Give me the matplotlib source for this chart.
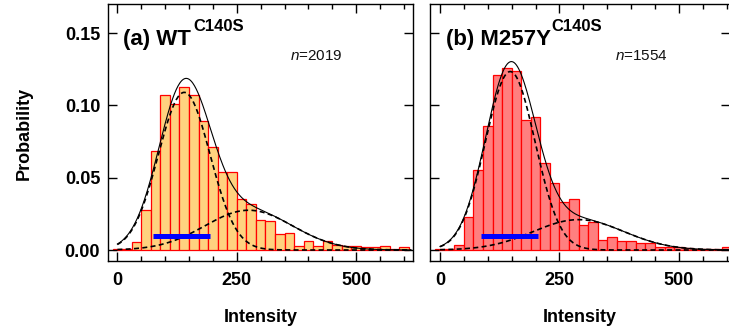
import numpy as np
import matplotlib.pyplot as plt
from matplotlib.ticker import MultipleLocator

plt.rcParams['font.family'] = ['Liberation Sans', 'DejaVu Sans']
plt.rcParams['mathtext.fontset'] = 'custom'
plt.rcParams['mathtext.rm'] = 'Liberation Sans'
plt.rcParams['mathtext.it'] = 'Liberation Sans:italic'
plt.rcParams['mathtext.bf'] = 'Liberation Sans:bold'

# histogram bins (bin width 20, centres)
bins = [0, 20, 40, 60, 80, 100, 120, 140, 160, 180, 200, 220, 240, 260, 280, 300,
        320, 340, 360, 380, 400, 420, 440, 460, 480, 500, 520, 540, 560, 580, 600]

prob_wt = [0.001, 0.001, 0.0058, 0.028, 0.0687, 0.107, 0.101, 0.113, 0.107, 0.089,
           0.071, 0.054, 0.054, 0.035, 0.032, 0.021, 0.020, 0.011, 0.012, 0.0025,
           0.0064, 0.0025, 0.006, 0.0035, 0.0025, 0.0025, 0.002, 0.002, 0.003, 0.001, 0.002]

prob_m257y = [0.0005, 0.001, 0.0035, 0.0226, 0.0552, 0.0854, 0.1211, 0.1257, 0.124, 0.090,
              0.0918, 0.0599, 0.0465, 0.033, 0.035, 0.017, 0.0194, 0.0072, 0.0088, 0.006,
              0.006, 0.0046, 0.0046, 0.0018, 0.0018, 0.0018, 0.0012, 0.0005, 0.0005, 0.001, 0.0018]

# two-gaussian fits: amplitude, centre, sigma
fit_wt_amp = [0.109, 0.0275]
fit_wt_mu = [140, 275]
fit_wt_sig = [54, 92]
fit_m_amp = [0.1234, 0.021]
fit_m_mu = [147, 290]
fit_m_sig = [52, 95]

# blue horizontal bar (start, end, level)
blue_wt = [75, 194, 0.0097]
blue_m = [85, 206, 0.0097]

panels = [
    dict(prob=prob_wt, amp=fit_wt_amp, mu=fit_wt_mu, sig=fit_wt_sig, blue=blue_wt,
         fc='#FFD27F', title='(a) WT', n='$n$=2019', xlim=(-19, 618)),
    dict(prob=prob_m257y, amp=fit_m_amp, mu=fit_m_mu, sig=fit_m_sig, blue=blue_m,
         fc='#FF7F7F', title='(b) M257Y', n='$n$=1554', xlim=(-21, 607)),
]

W, H = 729, 335
fig = plt.figure(figsize=(W / 100, H / 100), dpi=100)

def fx(x):
    return x / W

def fy(y):
    return 1 - y / H

# axes boxes in pixels: left, right, top, bottom
boxes = [(108.3, 412.5, 4, 260.5), (430, 730, 4, 260.5)]

xs = np.linspace(0, 615, 500)
for i, (p, b) in enumerate(zip(panels, boxes)):
    ax = fig.add_axes([fx(b[0]), fy(b[3]), (b[1] - b[0]) / W, (b[3] - b[2]) / H])
    ax.bar(bins, p['prob'], width=20, color=p['fc'], edgecolor='#FF0000',
           linewidth=0.9, zorder=1)
    comps = []
    for a, m, s in zip(p['amp'], p['mu'], p['sig']):
        c = a * np.exp(-(xs - m) ** 2 / (2 * s ** 2))
        comps.append(c)
        ax.plot(xs, c, color='black', lw=1.2, ls=(0, (3, 2)), zorder=3)
    ax.plot(xs, comps[0] + comps[1], color='black', lw=0.8, zorder=3)
    ax.plot(p['blue'][:2], [p['blue'][2]] * 2, color='#0000FF', lw=3.6,
            solid_capstyle='butt', zorder=4)

    ax.set_xlim(*p['xlim'])
    ax.set_ylim(-0.00726, 0.1701)
    ax.set_xticks([0, 250, 500])
    ax.xaxis.set_minor_locator(MultipleLocator(50))
    ax.set_yticks([0, 0.05, 0.10, 0.15])
    ax.tick_params(which='both', direction='in', top=True, right=True, width=1)
    ax.tick_params(which='major', length=6.5)
    ax.tick_params(which='minor', length=3.6)
    ax.tick_params(axis='x', pad=8.5, labelsize=13)
    ax.tick_params(axis='y', pad=5.8, labelsize=13)
    for lab in ax.get_xticklabels() + ax.get_yticklabels():
        lab.set_fontweight('bold')
    ax.set_yticklabels(['0.00', '0.05', '0.10', '0.15'])
    if i == 1:
        ax.tick_params(axis='y', labelleft=False)
    for sp in ax.spines.values():
        sp.set_linewidth(1.0)

    fig.text(fx((b[0] + b[1]) / 2), fy(318), 'Intensity', ha='center', va='center',
             fontsize=13, fontweight='bold')

fig.text(fx(24), fy(133), 'Probability', rotation=90, ha='center', va='center',
         fontsize=13, fontweight='bold')

# panel titles
fig.text(fx(123), fy(45), '(a) WT', fontsize=16, fontweight='bold', va='baseline')
fig.text(fx(193), fy(31), 'C140S', fontsize=12, fontweight='bold', va='baseline')
fig.text(fx(446), fy(45), '(b) M257Y', fontsize=16, fontweight='bold', va='baseline')
fig.text(fx(551), fy(31), 'C140S', fontsize=12, fontweight='bold', va='baseline')
fig.text(fx(290), fy(56), panels[0]['n'], fontsize=11, va='center', color='#111111')
fig.text(fx(615), fy(56), panels[1]['n'], fontsize=11, va='center', color='#111111')

fig.savefig('out.png', dpi=100)
